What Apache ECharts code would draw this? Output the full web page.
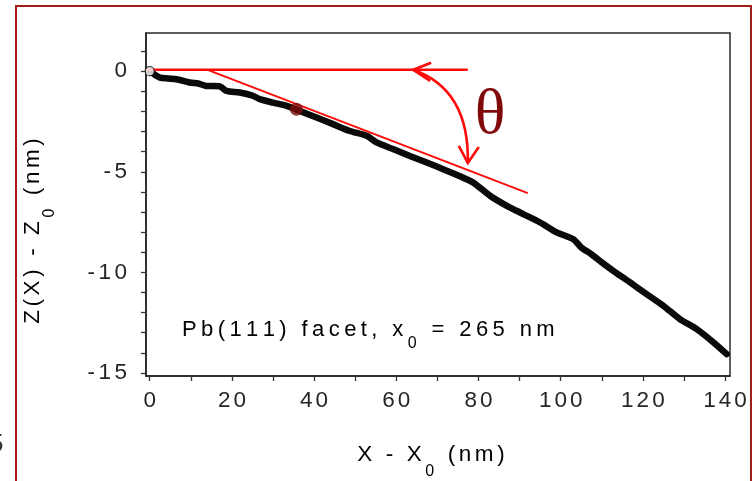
<!DOCTYPE html>
<html><head><meta charset="utf-8">
<script src="https://cdn.jsdelivr.net/npm/echarts@6/dist/echarts.min.js"></script>
<style>html,body{margin:0;padding:0;background:#fff}#c{width:754px;height:481px}</style>
</head><body><div id="c"></div>
<script>
// ---- data ----
const xValues = [0, 2.4, 4.5, 6.5, 9.7, 12, 13.8, 17, 18.7, 21.9, 25.1, 26.8, 30, 33.3, 36.5, 40.6, 44.6, 48.7, 52.8, 55.2, 59.2, 63.3, 67.4, 71.4, 75.5, 78.7, 82.8, 86.9, 90.9, 95, 99, 103.1, 105, 107.5, 110, 112.8, 116.9, 120.9, 125, 129, 133.1, 137.2, 140.4];
const zValues = [0, -0.31, -0.36, -0.4, -0.56, -0.62, -0.73, -0.75, -0.98, -1.06, -1.22, -1.39, -1.56, -1.72, -1.97, -2.3, -2.63, -2.97, -3.21, -3.54, -3.87, -4.21, -4.54, -4.87, -5.22, -5.53, -6.19, -6.69, -7.1, -7.52, -8.01, -8.35, -8.76, -9.1, -9.5, -9.92, -10.5, -11.08, -11.66, -12.32, -12.82, -13.48, -14.06];
const xTickLabels = [0, 20, 40, 60, 80, 100, 120, 140];
const xTicks = [0, 10, 20, 30, 40, 50, 60, 70, 80, 90, 100, 110, 120, 130, 140];
const yTickLabels = [0, -5, -10, -15];
const yTicks = [-15, -14, -13, -12, -11, -10, -9, -8, -7, -6, -5, -4, -3, -2, -1, 0, 1];
const originPoint = [[0, 0]];
const markedPoint = [[35.7, -1.89]];
const refLineX = [-0.9, 77.4];
const refLineZ = [0.07, 0.07];
const tangentX = [14.1, 92];
const tangentZ = [0.07, -6.06];
const arcStart = [64.1, 0.07];
const arcControl = [77.8, -0.91];
const arcEnd = [77.4, -4.56];
const xTitle = [['X - X', 'm'], ['0', 's'], [' (nm)', 'm']];
const yTitle = [['Z(X) - Z', 'm'], ['0', 's'], [' (nm)', 'm']];
const noteText = [['Pb(111) facet, x', 'm'], ['0', 's'], [' = 265 nm', 'm']];
const thetaText = 'θ';

// ---- styling ----
const FONT = '"Liberation Sans", Arial, Helvetica, sans-serif';
const TXT = '#262626';
const RED = '#ff0a0a';

function trackParts(parts) {
  const chars = [];
  parts.forEach(([t, k]) => Array.from(t).forEach(c => chars.push([c, k])));
  return chars.map(([c, k], i) => `{${k}${i === chars.length - 1 ? 'L' : ''}|${c}}`).join('');
}
function richSet(size, subSize, sp, subPad) {
  const base = { fontSize: size, fontFamily: FONT, color: TXT };
  const sub = { fontSize: subSize, fontFamily: FONT, color: TXT };
  return {
    m: Object.assign({}, base, { padding: [0, sp, 0, 0] }),
    mL: Object.assign({}, base),
    s: Object.assign({}, sub, { padding: [subPad, sp, 0, 0] }),
    sL: Object.assign({}, sub, { padding: [subPad, 0, 0, 0] })
  };
}
const pair = (xs, ys) => xs.map((x, i) => [x, ys[i]]);

const chart = echarts.init(document.getElementById('c'), null, { renderer: 'canvas' });
const option = {
  animation: false,
  backgroundColor: '#fff',
  grid: { left: 146, right: 24, top: 33, bottom: 105, show: true, borderColor: '#2a2a2a', borderWidth: 1.5 },
  xAxis: {
    type: 'value', min: -0.9, max: 141.2,
    axisLine: { show: true, onZero: false, lineStyle: { color: '#222', width: 1.5 } },
    axisTick: { show: true, customValues: xTicks, length: 5, lineStyle: { color: '#333', width: 1.3 } },
    axisLabel: { customValues: xTickLabels, margin: 13, formatter: v => trackParts([[String(v), 'm']]), rich: richSet(22.5, 15, 3, 0) },
    splitLine: { show: false }
  },
  yAxis: {
    type: 'value', min: -15.15, max: 1.9,
    axisLine: { show: true, onZero: false, lineStyle: { color: '#222', width: 1.5 } },
    axisTick: { show: true, customValues: yTicks, length: 5, lineStyle: { color: '#333', width: 1.3 } },
    axisLabel: { customValues: yTickLabels, margin: 19, formatter: v => trackParts([[String(v), 'm']]), rich: richSet(22.5, 15, 3.5, 0) },
    splitLine: { show: false }
  },
  series: [
    { type: 'line', data: pair(xValues, zValues), showSymbol: false, smooth: 0.25, lineStyle: { color: '#0a0a0a', width: 6.5, cap: 'round', join: 'round' }, z: 2 },
    { type: 'line', data: pair(refLineX, refLineZ), showSymbol: false, lineStyle: { color: RED, width: 2.5 }, z: 3 },
    { type: 'line', data: pair(tangentX, tangentZ), showSymbol: false, lineStyle: { color: RED, width: 2 }, z: 3 },
    { type: 'scatter', data: originPoint, symbol: 'circle', symbolSize: 9, itemStyle: { color: '#fff', borderColor: '#111', borderWidth: 1.2 }, z: 4 },
    { type: 'scatter', data: markedPoint, symbol: 'circle', symbolSize: 13, itemStyle: { color: '#7d0b0b' }, z: 5 }
  ]
};
chart.setOption(option);

const P = p => chart.convertToPixel({ gridIndex: 0 }, p);
const a0 = P(arcStart), ac = P(arcControl), a1 = P(arcEnd);
const graphics = [
  { type: 'rect', shape: { x: 16, y: 6, width: 735, height: 520 }, style: { fill: 'none', stroke: '#a31c1c', lineWidth: 2 }, silent: true, z: 100 },
  { type: 'bezierCurve', shape: { x1: a0[0], y1: a0[1], x2: a1[0], y2: a1[1], cpx1: ac[0], cpy1: ac[1] }, style: { fill: 'none', stroke: RED, lineWidth: 2.6 }, z: 100 },
  { type: 'polyline', shape: { points: [[a0[0] + 18, a0[1] - 7], a0, [a0[0] + 17, a0[1] + 11]] }, style: { fill: 'none', stroke: RED, lineWidth: 2.6 }, z: 100 },
  { type: 'polyline', shape: { points: [[a1[0] - 9, a1[1] - 17], a1, [a1[0] + 11, a1[1] - 16]] }, style: { fill: 'none', stroke: RED, lineWidth: 2.6 }, z: 100 },
  { type: 'text', x: 490, y: 116, style: { text: thetaText, fontSize: 64, fontFamily: '"Liberation Serif", "DejaVu Serif", serif', fill: '#800a0a', align: 'center', verticalAlign: 'middle' }, z: 100 },
  { type: 'text', x: 431, y: 455, style: { text: trackParts(xTitle), rich: richSet(22.5, 16, 3.6, 33), align: 'center', verticalAlign: 'middle' }, z: 100 },
  { type: 'text', x: 33, y: 231, rotation: Math.PI / 2, style: { text: trackParts(yTitle), rich: richSet(22.5, 16, 3.6, 33), align: 'center', verticalAlign: 'middle' }, z: 100 },
  { type: 'text', x: 182, y: 330, style: { text: trackParts(noteText), rich: richSet(22, 16, 4.4, 28), align: 'left', verticalAlign: 'middle' }, z: 100 },
  { type: 'text', x: -11, y: 445, style: { text: '5', fontSize: 26, fontFamily: FONT, fill: '#333', align: 'left', verticalAlign: 'middle' }, z: 100 }
];
chart.setOption({ graphic: graphics });
</script>
</body></html>
